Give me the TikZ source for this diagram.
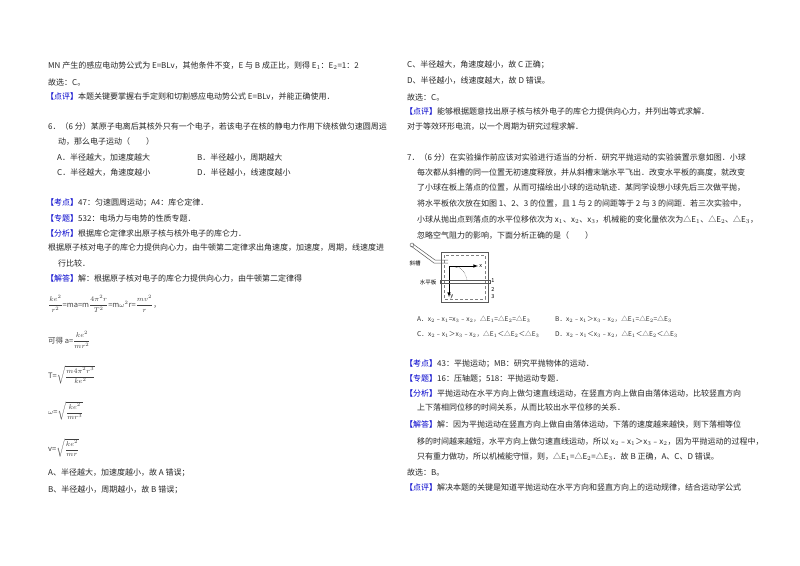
\documentclass[tikz,border=0pt]{standalone}
\usepackage{fontspec}
\setmainfont{Noto Sans CJK SC}
\usepackage{amsmath}
\begin{document}
\begin{tikzpicture}[x=1pt,y=-1pt,
  t/.style={anchor=west,inner sep=0pt,font=\fontsize{8}{9}\selectfont,text=black!85},
  op/.style={anchor=west,inner sep=0pt,font=\fontsize{6.6}{8}\selectfont,text=black!80},
  fm/.style={anchor=west,inner sep=0pt,font=\fontsize{7.5}{8}\selectfont,text=black!75},
  lbl/.style={inner sep=0pt,font=\fontsize{5.5}{6}\selectfont}]
\newcommand{\kd}[1]{\textcolor{blue!80!black}{【#1】}}
\fill[white] (0,0) rectangle (800,565);
\useasboundingbox (0,0) rectangle (800,565);
% left column
\node[t] (l1) at (48,66) {MN 产生的感应电动势公式为 E=BLv，其他条件不变，E 与 B 成正比，则得 E$_1$：E$_2$=1：2};
\node[t] (l2) at (48,82) {故选：C。};
\node[t] (l3) at (46,97) {\kd{点评}本题关键要掌握右手定则和切割感应电动势公式 E=BLv，并能正确使用．};
\node[t] (l4) at (48,127) {6．（6 分）某原子电离后其核外只有一个电子，若该电子在核的静电力作用下绕核做匀速圆周运};
\node[t] (l5) at (58,142) {动，那么电子运动（\quad\quad）};
\node[t] (l6a) at (57,158) {A．半径越大，加速度越大};
\node[t] (l6b) at (197,158) {B．半径越小，周期越大};
\node[t] (l7a) at (57,173) {C．半径越大，角速度越小};
\node[t] (l7b) at (197,173) {D．半径越小，线速度越小};
\node[t] (l8) at (46,203) {\kd{考点}47：匀速圆周运动；A4：库仑定律．};
\node[t] (l9) at (46,218) {\kd{专题}532：电场力与电势的性质专题．};
\node[t] (l10) at (46,233) {\kd{分析}根据库仑定律求出原子核与核外电子的库仑力．};
\node[t] (l11) at (48,248) {根据原子核对电子的库仑力提供向心力，由牛顿第二定律求出角速度，加速度，周期，线速度进};
\node[t] (l12) at (58,263) {行比较．};
\node[t] (l13) at (46,279) {\kd{解答}解：根据原子核对电子的库仑力提供向心力，由牛顿第二定律得};
\node[fm] (f1) at (48,304) {$\dfrac{ke^2}{r^2}$=ma=m$\dfrac{4\pi^2r}{T^2}$=m$\omega^2$r=$\dfrac{mv^2}{r}$，};
\node[fm] (f2) at (48,340) {可得 a=$\dfrac{ke^2}{mr^2}$};
\node[fm] (f3) at (48,375) {T=$\sqrt{\dfrac{m4\pi^2r^3}{ke^2}}$};
\node[fm] (f4) at (48,411) {$\omega$=$\sqrt{\dfrac{ke^2}{mr^3}}$};
\node[fm] (f5) at (48,448) {v=$\sqrt{\dfrac{ke^2}{mr}}$};
\node[t] (l14) at (48,473) {A、半径越大，加速度越小，故 A 错误；};
\node[t] (l15) at (48,490) {B、半径越小，周期越小，故 B 错误；};
% right column
\node[t] (r1) at (407,65) {C、半径越大，角速度越小，故 C 正确；};
\node[t] (r2) at (407,81) {D、半径越小，线速度越大，故 D 错误。};
\node[t] (r3) at (407,97) {故选：C。};
\node[t] (r4) at (405,112) {\kd{点评}能够根据题意找出原子核与核外电子的库仑力提供向心力，并列出等式求解．};
\node[t] (r5) at (407,127) {对于等效环形电流，以一个周期为研究过程求解．};
\node[t] (r6) at (407,157) {7．（6 分）在实验操作前应该对实验进行适当的分析．研究平抛运动的实验装置示意如图．小球};
\node[t] (r7) at (417,173) {每次都从斜槽的同一位置无初速度释放，并从斜槽末端水平飞出．改变水平板的高度，就改变};
\node[t] (r8) at (417,188) {了小球在板上落点的位置，从而可描绘出小球的运动轨迹．某同学设想小球先后三次做平抛，};
\node[t] (r9) at (417,204) {将水平板依次放在如图 1、2、3 的位置，且 1 与 2 的间距等于 2 与 3 的间距．若三次实验中，};
\node[t] (r10) at (417,220) {小球从抛出点到落点的水平位移依次为 x$_1$、x$_2$、x$_3$，机械能的变化量依次为△E$_1$、△E$_2$、△E$_3$，};
\node[t] (r11) at (417,235) {忽略空气阻力的影响，下面分析正确的是（\quad\quad）};
% figure
\draw[gray!70!black,line width=0.6pt] (441,252) rectangle (488,302);
\draw[gray,densely dashed,line width=0.4pt] (444,255) rectangle (485,299);
\draw[gray!70!black,line width=0.5pt] (411,246) -- (434,263) -- (448,263);
\draw[gray!70!black,line width=0.5pt] (413,244) -- (435,260) -- (448,260);
\draw[gray!70!black] (412,245) circle (2);
\coordinate (o) at (449,266);
\draw[-latex,line width=0.6pt] (o) -- (478,266) node[lbl,right=1pt] {x};
\draw[-latex,line width=0.6pt] (o) -- (449,297) node[lbl,right=1pt] {y};
\draw[densely dotted] (455,267) .. controls (462,267) and (465,272) .. (467,280);
\draw[gray!70!black,line width=0.5pt] (440,280) rectangle (490,283);
\node[lbl] (n1) at (493,281) {1};
\node[lbl] (n2) at (493,289) {2};
\node[lbl] (n3) at (493,297) {3};
\node[lbl] (xc) at (415,263) {斜槽};
\node[lbl] (sp) at (428,282) {水平板};
% options
\node[op] (o1) at (417,319) {A．x$_2$﹣x$_1$=x$_3$﹣x$_2$，△E$_1$=△E$_2$=△E$_3$};
\node[op] (o2) at (555,319) {B．x$_2$﹣x$_1$＞x$_3$﹣x$_2$，△E$_1$=△E$_2$=△E$_3$};
\node[op] (o3) at (417,334) {C．x$_2$﹣x$_1$＞x$_3$﹣x$_2$，△E$_1$＜△E$_2$＜△E$_3$};
\node[op] (o4) at (555,334) {D．x$_2$﹣x$_1$＜x$_3$﹣x$_2$，△E$_1$＜△E$_2$＜△E$_3$};
\node[t] (r12) at (405,364) {\kd{考点}43：平抛运动；MB：研究平抛物体的运动．};
\node[t] (r13) at (405,379) {\kd{专题}16：压轴题；518：平抛运动专题．};
\node[t] (r14) at (405,394) {\kd{分析}平抛运动在水平方向上做匀速直线运动，在竖直方向上做自由落体运动，比较竖直方向};
\node[t] (r15) at (417,408) {上下落相同位移的时间关系，从而比较出水平位移的关系．};
\node[t] (r16) at (405,425) {\kd{解答}解：因为平抛运动在竖直方向上做自由落体运动，下落的速度越来越快，则下落相等位};
\node[t] (r17) at (417,442) {移的时间越来越短，水平方向上做匀速直线运动，所以 x$_2$﹣x$_1$＞x$_3$﹣x$_2$，因为平抛运动的过程中，};
\node[t] (r18) at (417,457) {只有重力做功，所以机械能守恒，则，△E$_1$=△E$_2$=△E$_3$．故 B 正确，A、C、D 错误。};
\node[t] (r19) at (407,472) {故选：B。};
\node[t] (r20) at (405,488) {\kd{点评}解决本题的关键是知道平抛运动在水平方向和竖直方向上的运动规律，结合运动学公式};
\end{tikzpicture}
\end{document}
